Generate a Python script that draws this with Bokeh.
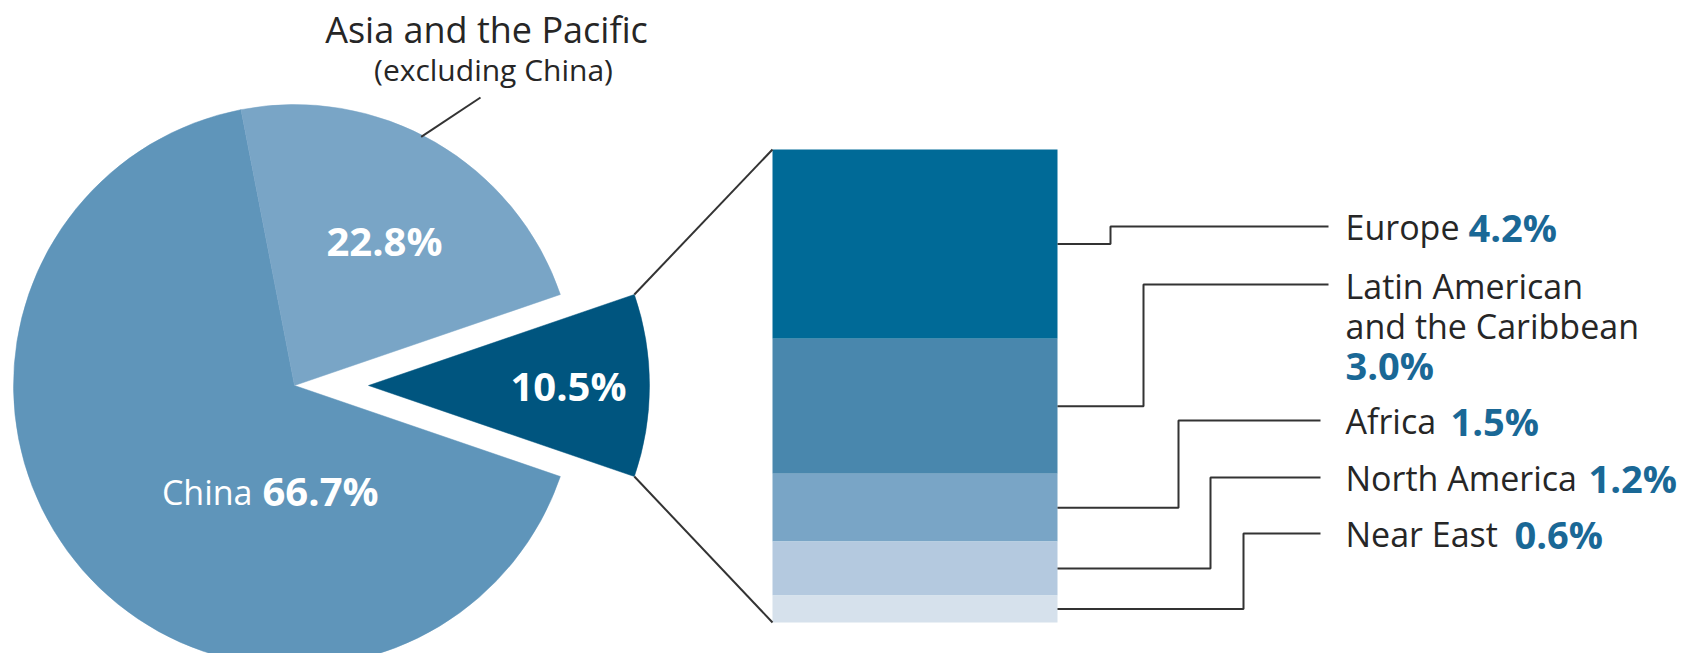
import math
from bokeh.plotting import figure
from bokeh.models import Range1d, ColumnDataSource
from bokeh.core.properties import value
from bokeh.embed import file_html
from bokeh.resources import INLINE

# ---------------- data ----------------
pie_labels = ["China", "Asia and the Pacific", "Other regions"]
pie_values = [66.7, 22.8, 10.5]
pie_colors = ["#5f95ba", "#79a5c6", "#00557f"]

region_labels = ["Europe", "Latin American", "Africa", "North America", "Near East"]
region_values = [4.2, 3.0, 1.5, 1.2, 0.6]
region_colors = ["#006a97", "#4987ad", "#79a5c6", "#b4c9df", "#d6e1ec"]

def pct(v):
    return f"{v:.1f}%"

# ---------------- layout (reference pixel space, y down) ----------------
W, H = 1684, 653
def Y(ry):
    return H - ry

FONT = value("Open Sans")
DARK = "#262626"
BLUE = "#1a6896"

p = figure(width=W, height=H, output_backend="svg", toolbar_location=None,
           x_range=Range1d(0, W), y_range=Range1d(0, H),
           x_axis_location=None, y_axis_location=None,
           min_border=0, min_border_left=0, min_border_right=0,
           min_border_top=0, min_border_bottom=0,
           outline_line_color=None, background_fill_color="white",
           border_fill_color="white")
p.grid.visible = False

# ---------------- pie ----------------
cx, cy, R, explode = 294, 385, 281, 74
total = sum(pie_values)
span_o = 2 * math.pi * pie_values[2] / total
span_a = 2 * math.pi * pie_values[1] / total
a_start, a_end = span_o / 2, span_o / 2 + span_a
c_start, c_end = a_end, 2 * math.pi - span_o / 2
o_start, o_end = -span_o / 2, span_o / 2
ex = cx + explode

pie_src = ColumnDataSource(dict(
    x=[cx, cx, ex], y=[Y(cy)] * 3,
    start=[c_start, a_start, o_start], end=[c_end, a_end, o_end],
    color=pie_colors))
p.wedge(x="x", y="y", radius=R, start_angle="start", end_angle="end",
        fill_color="color", line_color="color", line_width=0.5, source=pie_src)

# ---------------- stacked column ----------------
bl, br, bt, bb = 772, 1057, 149, 622
scale = (bb - bt) / sum(region_values)
tops, bots, mids = [], [], []
acc = 0.0
for v in region_values:
    t = bt + acc * scale
    acc += v
    b = bt + acc * scale
    tops.append(Y(t)); bots.append(Y(b)); mids.append((t + b) / 2)
p.quad(left=[bl] * len(region_values), right=[br] * len(region_values),
       top=tops, bottom=bots, fill_color=region_colors, line_color=None)

# ---------------- leader lines ----------------
c1 = (ex + R * math.cos(o_end), Y(cy) + R * math.sin(o_end))
c2 = (ex + R * math.cos(o_start), Y(cy) + R * math.sin(o_start))
ang_asia = math.radians(63)
asia_p0 = (cx + (R - 2) * math.cos(ang_asia), Y(cy) + (R - 2) * math.sin(ang_asia))
xs = [[c1[0], bl], [c2[0], bl], [asia_p0[0], 480]]
ys = [[c1[1], Y(bt)], [c2[1], Y(bb)], [asia_p0[1], Y(97)]]

elbow_x = [1110, 1143, 1178, 1210, 1243]
end_x = [1328, 1328, 1320, 1320, 1320]
label_y = [226, 284, 420, 477, 533]
for i in range(len(region_values)):
    xs.append([br, elbow_x[i], elbow_x[i], end_x[i]])
    ys.append([Y(mids[i]), Y(mids[i]), Y(label_y[i]), Y(label_y[i])])
p.multi_line(xs=xs, ys=ys, line_color="#333333", line_width=2)

# ---------------- pie texts ----------------
p.text(x=[486], y=[Y(29)], text=["Asia and the Pacific"], text_font=FONT,
       text_font_size=value("36px"), text_color=DARK,
       text_align="center", text_baseline="middle")
p.text(x=[493], y=[Y(69)], text=["(excluding China)"], text_font=FONT,
       text_font_size=value("30px"), text_color=DARK,
       text_align="center", text_baseline="middle")
p.text(x=[384, ex + 200], y=[Y(240), Y(cy)],
       text=[pct(pie_values[1]), pct(pie_values[2])], text_font=FONT,
       text_font_size=value("40px"), text_font_style="bold", text_color="white",
       text_align="center", text_baseline="middle")
p.text(x=[252], y=[Y(491)], text=[pie_labels[0]], text_font=FONT,
       text_font_size=value("34px"), text_color="white",
       text_align="right", text_baseline="middle")
p.text(x=[262], y=[Y(490)], text=[pct(pie_values[0])], text_font=FONT,
       text_font_size=value("40px"), text_font_style="bold", text_color="white",
       text_align="left", text_baseline="middle")

# ---------------- region texts ----------------
lx = 1345
name_y = [226, 285, 420, 477, 533]
p.text(x=[lx] * 6, y=[Y(v) for v in name_y] + [Y(325)],
       text=region_labels + ["and the Caribbean"], text_font=FONT,
       text_font_size=value("34px"), text_color=DARK,
       text_align="left", text_baseline="middle")
pct_x = [1468, lx, 1450, 1588, 1514]
pct_y = [226, 364, 420, 477, 533]
p.text(x=pct_x, y=[Y(v) for v in pct_y], text=[pct(v) for v in region_values],
       text_font=FONT, text_font_size=value("38px"), text_font_style="bold",
       text_color=BLUE, text_align="left", text_baseline="middle")

open("out.html", "w").write(file_html(p, INLINE))
